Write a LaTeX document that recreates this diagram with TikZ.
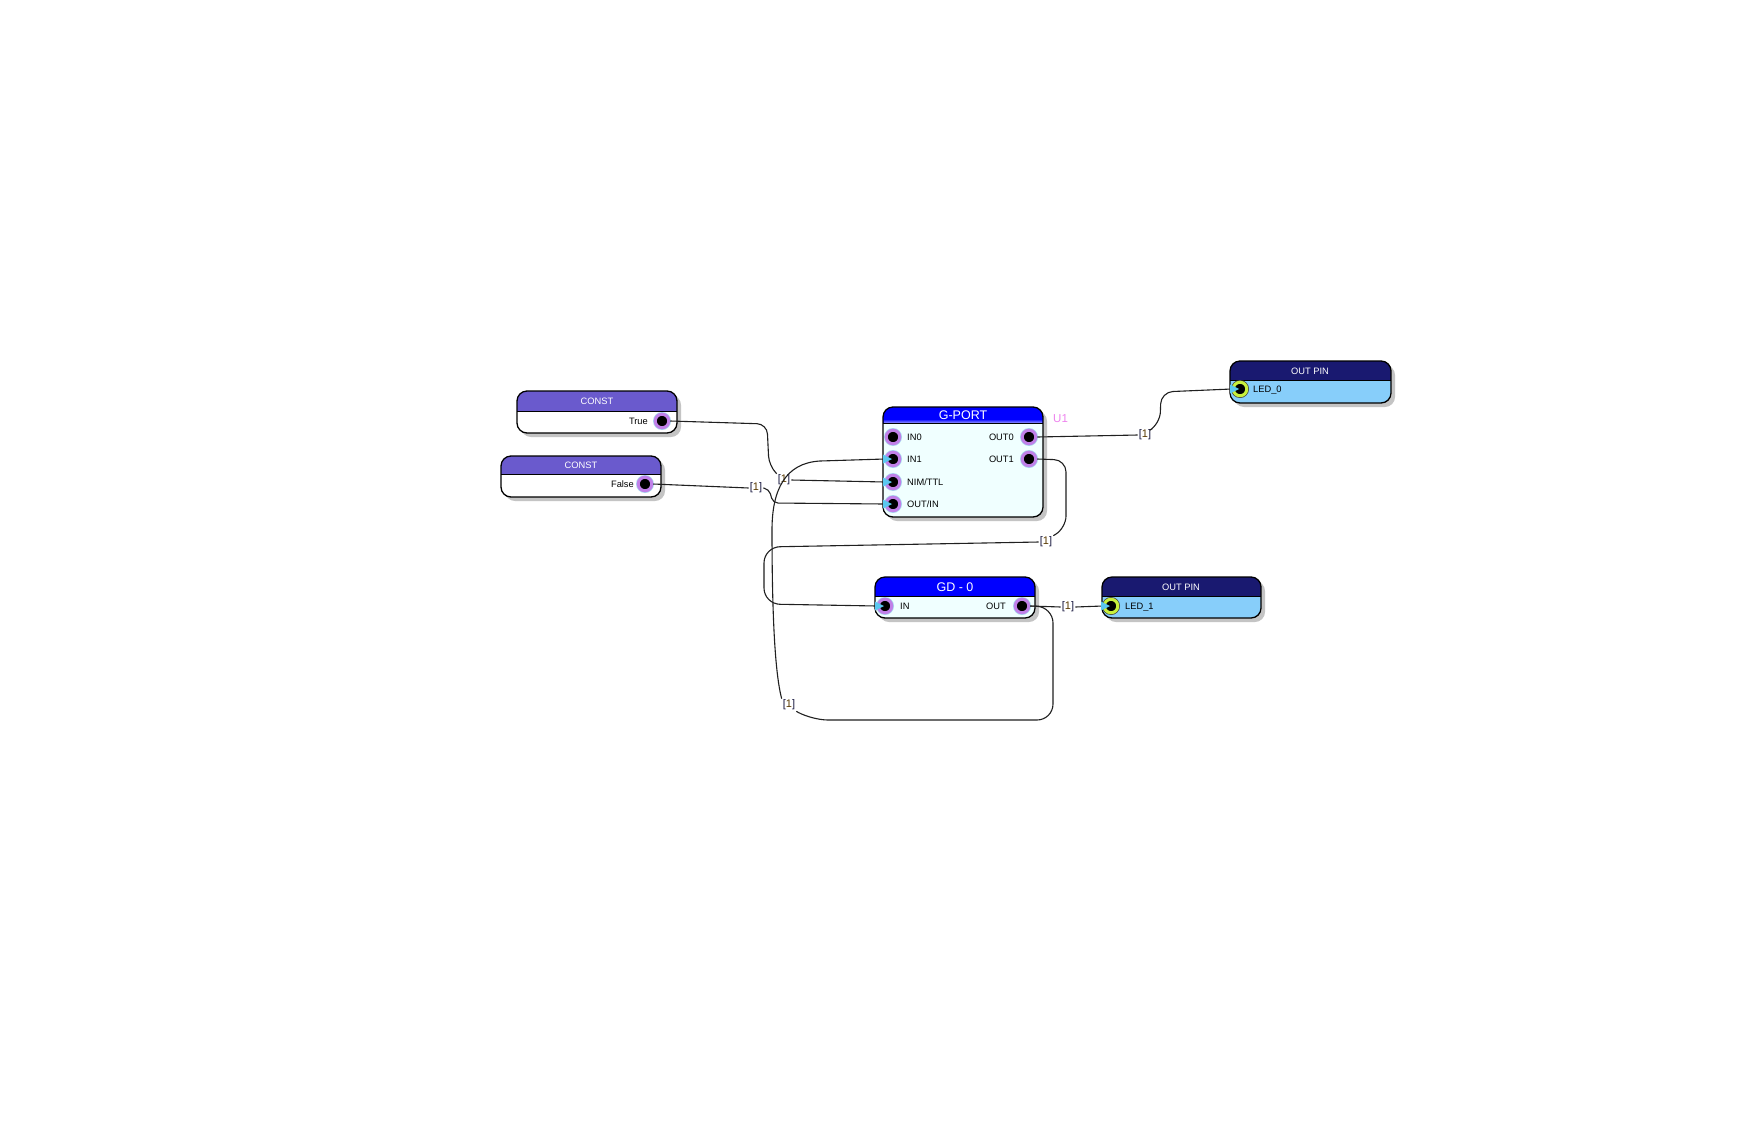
\documentclass[tikz,border=0pt]{standalone}
\usepackage{fontspec}
\setmainfont{Liberation Sans}
\usetikzlibrary{calc}
\definecolor{constH}{HTML}{6A5ACD}
\definecolor{gportH}{HTML}{0000FF}
\definecolor{gbody}{HTML}{F0FFFF}
\definecolor{pinH}{HTML}{191970}
\definecolor{pinB}{HTML}{87CEFA}
\definecolor{ringP}{HTML}{C080E8}
\definecolor{ringG}{HTML}{C8F03C}
\definecolor{edgeB}{HTML}{A8D8F0}
\definecolor{triC}{HTML}{5BC8F0}
\definecolor{uone}{HTML}{EE82EE}
\definecolor{labB}{HTML}{14143C}
\definecolor{labO}{HTML}{5A3A00}
\definecolor{wirec}{HTML}{202020}
\definecolor{shadowc}{HTML}{C4C4C4}
\tikzset{
  wire/.style={draw=wirec, line width=1.1},
  port/.style={circle, inner sep=0, minimum size=13.5, fill=black, draw=ringP, line width=3,
    preaction={draw=edgeB, line width=4.4}},
  pinport/.style={circle, inner sep=0, minimum size=13.5, fill=black, draw=ringG, line width=3,
    preaction={draw=black!75, line width=4.4}},
  ttl/.style={inner sep=0, text=white, font=\fontsize{9.3}{11}\selectfont, anchor=base},
  bigttl/.style={inner sep=0, text=white, font=\fontsize{12.5}{14}\selectfont, anchor=base},
  ptxt/.style={inner sep=0, text=black, font=\fontsize{9.3}{11}\selectfont},
  netlab/.style={inner sep=1, font=\fontsize{11}{12}\selectfont},
}
\newcommand{\blockbox}[7]{%
  \fill[shadowc, rounded corners=10] (#1+4,#2+4) rectangle (#3+4,#4+4);
  \begin{scope}
    \clip[rounded corners=10] (#1,#2) rectangle (#3,#4);
    \fill[#7] (#1,#2) rectangle (#3,#4);
    \fill[#6] (#1,#2) rectangle (#3,#5);
  \end{scope}
  \draw[line width=0.8] (#1,#5) -- (#3,#5);
  \draw[line width=1.3, rounded corners=10] (#1,#2) rectangle (#3,#4);
}
\newcommand{\netone}{\textcolor{labB}{[}\textcolor{labO}{1}\textcolor{labB}{]}}
\newcommand{\intri}[1]{%
  \fill[triC] ($(#1.center)+(-10,-4.5)$) -- ($(#1.center)+(-1,0)$) -- ($(#1.center)+(-10,4.5)$) -- cycle;}
\begin{document}
\begin{tikzpicture}[x=1pt, y=-1pt]
\useasboundingbox (0,0) rectangle (1763,1122);
\fill[white] (0,0) rectangle (1763,1122);

% CONST True
\blockbox{517}{391}{677}{433}{411}{constH}{white}
\node[ttl] (tc1) at (597,404.4) {CONST};
\node[port] (cT) at (662,421) {};
\node[ptxt, anchor=base east] (tT) at (648,424.4) {True};

% CONST False
\blockbox{501}{456}{661}{497}{474}{constH}{white}
\node[ttl] (tc2) at (581,468.4) {CONST};
\node[port] (cF) at (645,484) {};
\node[ptxt, anchor=base east] (tF) at (634,487.4) {False};

% G-PORT
\blockbox{883}{407}{1043}{517}{423}{gportH}{gbody}
\shade[top color=gportH, bottom color=gportH!40!white] (884,419) rectangle (1042,423);
\draw[line width=0.8] (883,423) -- (1043,423);
\node[bigttl] (tg) at (963,419.5) {G-PORT};
\node[port] (gIN0) at (893,437) {};
\node[port] (gIN1) at (893,459) {};
\node[port] (gNIM) at (893,482) {};
\node[port] (gOI) at (893,504) {};
\node[port] (gO0) at (1029,437) {};
\node[port] (gO1) at (1029,459) {};
\node[ptxt, anchor=base west] (tIN0) at (907,440.4) {IN0};
\node[ptxt, anchor=base west] (tIN1) at (907,462.4) {IN1};
\node[ptxt, anchor=base west] (tNIM) at (907,485.4) {NIM/TTL};
\node[ptxt, anchor=base west] (tOI) at (907,507.4) {OUT/IN};
\node[ptxt, anchor=base east] (tO0) at (1014,440.4) {OUT0};
\node[ptxt, anchor=base east] (tO1) at (1014,462.4) {OUT1};
\node[inner sep=0, text=uone, font=\fontsize{11.5}{13}\selectfont, anchor=base west] (u1) at (1053,422.5) {U1};

% GD - 0
\blockbox{875}{577}{1035}{618}{596}{gportH}{gbody}
\node[bigttl] (td) at (955,591) {GD - 0};
\node[port] (dIN) at (885,606) {};
\node[port] (dOUT) at (1022,606) {};
\node[ptxt, anchor=base west] (tdIN) at (900,609.4) {IN};
\node[ptxt, anchor=base east] (tdOUT) at (1006,609.4) {OUT};

% OUT PIN LED_0
\blockbox{1230}{361}{1391}{403}{380}{pinH}{pinB}
\node[ttl] (tp0) at (1310,374) {OUT PIN};
\node[pinport] (p0) at (1240,389) {};
\node[ptxt, anchor=base west] (tL0) at (1253,392.4) {LED\_0};

% OUT PIN LED_1
\blockbox{1102}{577}{1261}{618}{596}{pinH}{pinB}
\node[ttl] (tp1) at (1181,590) {OUT PIN};
\node[pinport] (p1) at (1111,606) {};
\node[ptxt, anchor=base west] (tL1) at (1125,609.4) {LED\_1};

% net labels
\node[netlab] (L1) at (756,488) {\netone};
\node[netlab] (L2) at (784,480) {\netone};
\node[netlab] (L3) at (1145,435) {\netone};
\node[netlab] (L4) at (1046,542) {\netone};
\node[netlab] (L5) at (789,705) {\netone};
\node[netlab] (L6) at (1068,607) {\netone};

% wires
\draw[wire, rounded corners=10] (cT.east) -- (767,424) -- (769,466) -- (L2.north west);
\draw[wire] (L2.east) -- (gNIM.west);
\draw[wire] (cF.east) -- (L1.west);
\draw[wire, rounded corners=5] (L1.east) -- (769,489) -- (773,503) -- (gOI.west);
\draw[wire] (L5.north west) .. controls (774,670) and (772,600) .. (772,530)
  .. controls (772,490) and (785,463) .. (820,461) -- (gIN1.west);
\draw[wire, rounded corners=16] (dOUT.east) -- (1053,607) -- (1053,720) -- (812,720) -- (L5.south east);
\draw[wire] (dOUT.east) -- (L6.west);
\draw[wire] (L6.east) -- (p1.west);
\draw[wire, rounded corners=12] (gO1.east) -- (1066,460) -- (1066,528) -- (L4.north east);
\draw[wire, rounded corners=16] (L4.west) -- (764,547) -- (764,604) -- (dIN.west);
\draw[wire] (gO0.east) -- (L3.west);
\draw[wire, rounded corners=12] (L3.north east) -- (1160,424) -- (1161,392) -- (p0.west);

% input arrows
\intri{gIN1}
\intri{gNIM}
\intri{gOI}
\intri{dIN}
\intri{p0}
\intri{p1}
\end{tikzpicture}
\end{document}
